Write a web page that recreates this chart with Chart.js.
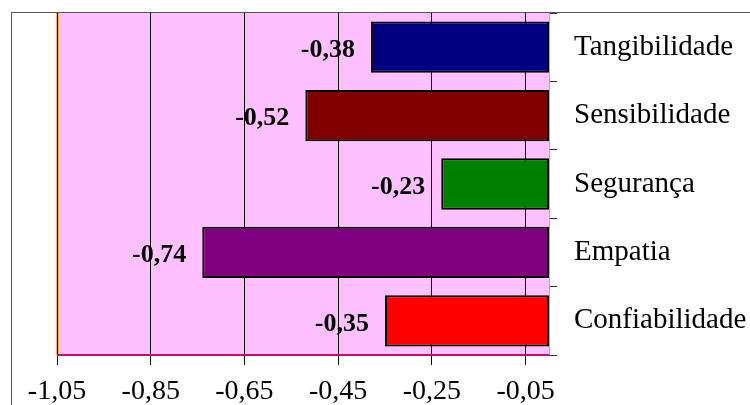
<!DOCTYPE html>
<html>
<head>
<meta charset="utf-8">
<script src="https://cdn.jsdelivr.net/npm/chart.js@4/dist/chart.umd.min.js"></script>
<style>
    body { margin: 0; background: #fff; }
    #wrap { width: 750px; height: 405px; }
</style>
</head>
<body>
<div id="wrap"><canvas id="gapChart" width="750" height="405"></canvas></div>
<script>
const categories = ['Tangibilidade', 'Sensibilidade', 'Segurança', 'Empatia', 'Confiabilidade'];
const gapValues = [-0.38, -0.52, -0.23, -0.74, -0.35];
const barColors = ['#000080', '#800000', '#008000', '#800080', '#FF0000'];
const xTicks = [-1.05, -0.85, -0.65, -0.45, -0.25, -0.05];

const fmt = v => v.toFixed(2).replace('.', ',');

// frame, pink plot area and the coloured edges
const backdrop = {
    id: 'backdrop',
    beforeDraw(chart) {
        const { ctx, chartArea: a } = chart;
        ctx.save();
        ctx.fillStyle = '#FFC0FF';
        ctx.fillRect(a.left, a.top, a.right - a.left, a.bottom - a.top);
        ctx.strokeStyle = '#555';
        ctx.lineWidth = 1;
        ctx.beginPath();
        ctx.moveTo(11.5, 405);
        ctx.lineTo(11.5, 12.5);
        ctx.lineTo(750, 12.5);
        ctx.stroke();
        ctx.fillStyle = '#FFB050';
        ctx.fillRect(a.left - 1, a.top, 3, a.bottom - a.top);
        ctx.restore();
    },
    afterDatasetsDraw(chart) {
        const { ctx, chartArea: a } = chart;
        ctx.save();
        ctx.strokeStyle = '#C0106A';
        ctx.lineWidth = 2;
        ctx.beginPath();
        ctx.moveTo(a.left, a.bottom);
        ctx.lineTo(a.right, a.bottom);
        ctx.stroke();
        ctx.strokeStyle = '#E0A060';
        ctx.lineWidth = 1;
        ctx.beginPath();
        ctx.moveTo(a.right + 0.5, a.top);
        ctx.lineTo(a.right + 0.5, a.bottom);
        ctx.stroke();

        // value labels left of each bar
        ctx.fillStyle = '#000';
        ctx.font = 'bold 26px "Liberation Serif", "Times New Roman", serif';
        ctx.textAlign = 'right';
        ctx.textBaseline = 'middle';
        chart.getDatasetMeta(0).data.forEach((bar, i) => {
            ctx.fillText(fmt(gapValues[i]), bar.x - 16, bar.y + 3);
        });
        ctx.restore();
    }
};

new Chart(document.getElementById('gapChart'), {
    type: 'bar',
    data: {
        labels: categories,
        datasets: [{
            data: gapValues,
            backgroundColor: barColors,
            borderColor: '#000',
            borderWidth: 2,
            borderSkipped: false,
            barPercentage: 0.75,
            categoryPercentage: 1
        }]
    },
    options: {
        indexAxis: 'y',
        responsive: false,
        animation: false,
        devicePixelRatio: 1,
        layout: { padding: { left: 57, top: 13, right: 0, bottom: 0 } },
        plugins: {
            legend: { display: false },
            tooltip: { enabled: false }
        },
        scales: {
            x: {
                min: -1.05,
                max: 0,
                afterBuildTicks: scale => { scale.ticks = xTicks.map(v => ({ value: v })); },
                afterFit: scale => {
                    scale.height = 50;
                    scale.paddingLeft = 0;
                    scale.paddingRight = 0;
                },
                grid: { color: '#000', lineWidth: 1, tickLength: 10 },
                border: { display: false },
                ticks: {
                    color: '#000',
                    padding: 10,
                    maxRotation: 0,
                    autoSkip: false,
                    font: { family: '"Liberation Serif", "Times New Roman", serif', size: 28 },
                    callback: v => fmt(v)
                }
            },
            y: {
                position: 'right',
                afterFit: scale => {
                    scale.width = 201;
                    scale.paddingTop = 0;
                    scale.paddingBottom = 0;
                },
                grid: { drawOnChartArea: false, color: '#333', tickLength: 8, offset: true },
                border: { display: false },
                ticks: {
                    color: '#000',
                    padding: 17,
                    font: { family: '"Liberation Serif", "Times New Roman", serif', size: 29 }
                }
            }
        }
    },
    plugins: [backdrop]
});
</script>
</body>
</html>
